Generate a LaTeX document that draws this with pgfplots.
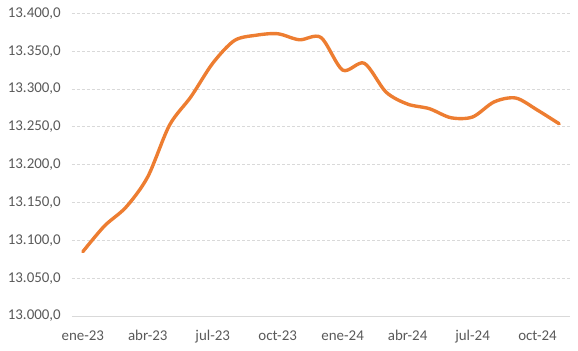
\documentclass[border=0pt]{standalone}
\usepackage{pgfplots}
\pgfplotsset{compat=1.18}
\usepackage{fontspec}
\setmainfont{Carlito}
\definecolor{lineor}{HTML}{ED7D31}
\definecolor{gridc}{HTML}{D9D9D9}
\definecolor{txt}{HTML}{595959}
\begin{document}
\begin{tikzpicture}
\path[use as bounding box] (-72bp,-35bp) rectangle (506bp,316bp);
\begin{axis}[
  scale only axis,
  width=498bp, height=302.7bp,
  xmin=-0.5, xmax=22.5,
  ymin=13000, ymax=13400,
  ytick={13000,13050,...,13400},
  xtick={0,3,6,9,12,15,18,21},
  xticklabels={ene-23,abr-23,jul-23,oct-23,ene-24,abr-24,jul-24,oct-24},
  axis x line*=bottom,
  axis y line*=left,
  x axis line style={-, draw=gridc, line width=0.75pt},
  y axis line style={draw=none},
  ymajorgrids,
  grid style={dash pattern=on 3bp off 2bp, draw=gridc, line width=0.7pt},
  major tick length=0pt,
  tick style={draw=none},
  scaled y ticks=false,
  yticklabel style={/pgf/number format/fixed, /pgf/number format/fixed zerofill, /pgf/number format/precision=1, /pgf/number format/1000 sep={.}, /pgf/number format/use comma, /pgf/number format/assume math mode=true},
  tick label style={font=\fontsize{15}{18}\selectfont, text=txt},
  yticklabel style={xshift=-7.7bp},
  xticklabel style={yshift=-11bp},
  clip=false,
]
\addplot[lineor, line width=3.4pt, smooth, tension=0.5, line cap=round, line join=round] coordinates {
(0,13085) (1,13119) (2,13144) (3,13184) (4,13252) (5,13290) (6,13334) (7,13364)
(8,13371) (9,13373) (10,13365) (11,13368) (12,13325) (13,13334) (14,13296) (15,13280)
(16,13274) (17,13262) (18,13263) (19,13283) (20,13288) (21,13272) (22,13254)
};
\end{axis}
\end{tikzpicture}
\end{document}
